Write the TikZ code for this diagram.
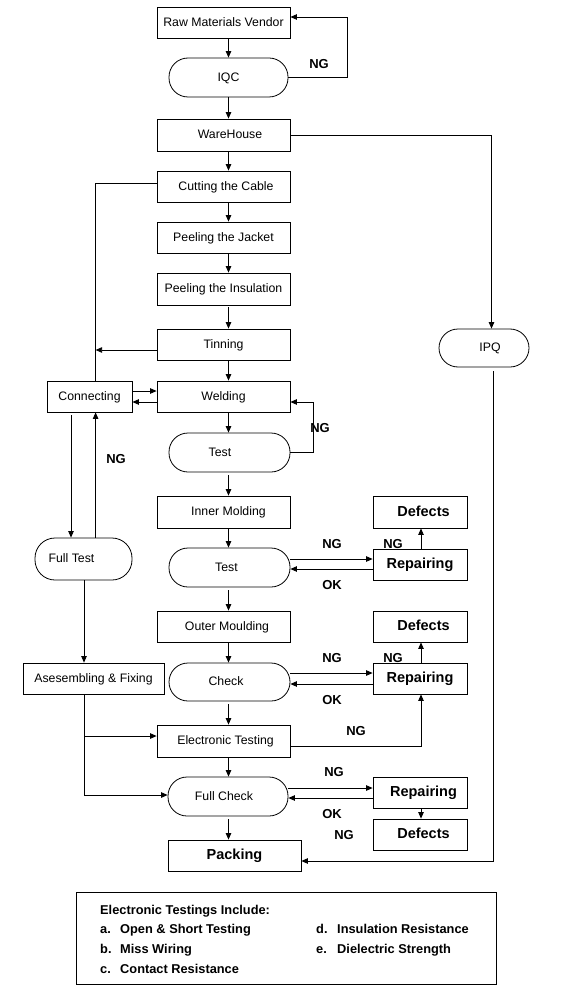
\documentclass[tikz,border=0pt]{standalone}
\usepackage{fontspec}
\setmainfont{Liberation Sans}
\usetikzlibrary{arrows.meta}
\newcommand\fReg{\fontsize{12.3}{14}\selectfont}
\newcommand\fNG{\fontsize{13}{15}\selectfont\bfseries}
\newcommand\fBig{\fontsize{14.5}{17}\selectfont\bfseries}
\newcommand\fLeg{\fontsize{12.8}{15}\selectfont\bfseries}
\tikzset{
  box/.style={draw, line width=0.8pt, minimum width=133pt, minimum height=31pt, inner sep=0pt, font=\fReg, text height=9pt, text depth=1.8pt},
  rbox/.style={draw, line width=0.8pt, rounded corners=19pt, minimum width=121pt, minimum height=39pt, inner sep=0pt, font=\fReg, text height=9pt, text depth=1.8pt},
  sbox/.style={draw, line width=0.8pt, minimum width=94pt, minimum height=31pt, inner sep=0pt, font=\fBig, text height=10.5pt, text depth=2pt},
  lab/.style={font=\fNG, inner sep=0pt, text height=9.5pt, text depth=0pt},
  leg/.style={font=\fLeg, inner sep=0pt, anchor=west, text height=9.2pt, text depth=2.7pt},
  conn/.style={line width=0.8pt, -{Triangle[length=6.5pt,width=5.5pt]}},
  plain/.style={line width=0.8pt}
}
\begin{document}
\begin{tikzpicture}[x=1pt,y=-1pt]
\useasboundingbox (0,0) rectangle (568,1000);
% nodes
\node[box] (vendor) at (223.5,22.5) {Raw Materials Vendor};
\node[rbox, minimum width=119pt] (iqc) at (228.5,77.5) {IQC};
\node[box, minimum height=32pt] (ware) at (223.5,135) {\hspace*{13pt}WareHouse};
\node[box] (cut) at (223.5,186.5) {\hspace*{5pt}Cutting the Cable};
\node[box] (jacket) at (223.5,237.5) {Peeling the Jacket};
\node[box, minimum height=32pt] (insul) at (223.5,289) {Peeling the Insulation};
\node[box] (tin) at (223.5,344.5) {Tinning};
\node[box] (weld) at (223.5,396.5) {Welding};
\node[box, minimum width=85pt] (connb) at (89.5,396.5) {Connecting};
\node[rbox] (test1) at (229.5,452.5) {Test\hspace*{19pt}};
\node[rbox, minimum width=90pt, minimum height=38pt] (ipq) at (484,348) {\hspace*{12pt}IPQ};
\node[box, minimum height=32pt] (inner) at (223.5,512) {\hspace*{10pt}Inner Molding};
\node[rbox, minimum width=97pt, minimum height=42pt, rounded corners=20pt] (fulltest) at (83.5,559) {Full Test\hspace*{24pt}};
\node[rbox] (test2) at (229.5,567.5) {Test\hspace*{6pt}};
\node[sbox] (rep1) at (420,564.5) {Repairing};
\node[sbox, minimum height=32pt] (def1) at (420,512) {\hspace*{7pt}Defects};
\node[box] (outer) at (223.5,626.5) {\hspace*{7pt}Outer Moulding};
\node[rbox, minimum height=38pt] (check) at (229.5,682) {Check\hspace*{7pt}};
\node[sbox] (rep2) at (420,678.5) {Repairing};
\node[sbox] (def2) at (420,626.5) {\hspace*{7pt}Defects};
\node[box, minimum width=141pt] (asm) at (93.5,678.5) {Asesembling \& Fixing};
\node[box, minimum height=32pt] (elec) at (223.5,741) {\hspace*{4pt}Electronic Testing};
\node[rbox, minimum width=120pt] (fullcheck) at (228,796.5) {Full Check\hspace*{8pt}};
\node[sbox] (rep3) at (420,792.5) {\hspace*{7pt}Repairing};
\node[sbox] (def3) at (420,834.5) {\hspace*{7pt}Defects};
\node[box, font=\fBig, text height=10.5pt, text depth=2pt] (pack) at (234.5,855.5) {Packing};
% helper coordinates
\coordinate (colx) at (228.5,0);
\coordinate (ngA) at (347,17);
\coordinate (r1) at (491.5,135);
\coordinate (r2) at (493,861);
\coordinate (lc) at (95.6,183);
\coordinate (wl) at (313,402);
\coordinate (fx) at (71,0);
\coordinate (ax) at (84,0);
\coordinate (rx) at (421,0);
% main column
\draw[conn] (vendor.south -| colx) -- (iqc.north -| colx);
\draw[conn] (iqc.south -| colx) -- (ware.north -| colx);
\draw[conn] (ware.south -| colx) -- (cut.north -| colx);
\draw[conn] (cut.south -| colx) -- (jacket.north -| colx);
\draw[conn] (jacket.south -| colx) -- (insul.north -| colx);
\draw[conn] ([yshift=-2pt]insul.south -| colx) -- (tin.north -| colx);
\draw[conn] (tin.south -| colx) -- (weld.north -| colx);
\draw[conn] (weld.south -| colx) -- (test1.north -| colx);
\draw[conn] ([yshift=-3pt]test1.south -| colx) -- (inner.north -| colx);
\draw[conn] (inner.south -| colx) -- (test2.north -| colx);
\draw[conn] ([yshift=-3pt]test2.south -| colx) -- (outer.north -| colx);
\draw[conn] (outer.south -| colx) -- (check.north -| colx);
\draw[conn] ([yshift=-3pt]check.south -| colx) -- (elec.north -| colx);
\draw[conn] (elec.south -| colx) -- (fullcheck.north -| colx);
\draw[conn] ([yshift=-3pt]fullcheck.south -| colx) -- (pack.north -| colx);
% IQC NG loop
\draw[conn] (iqc.east) -| (ngA) -- (ngA -| vendor.east);
% warehouse to IPQ to packing
\draw[conn] (ware.east) -- (r1) -- (r1 |- ipq.north);
\draw[conn] ([yshift=-4pt]r2 |- ipq.south) -- (r2) -- (r2 -| pack.east);
% cutting loop
\draw[plain] (connb.north -| lc) -- (lc) -- (lc -| cut.west);
\draw[conn] ([yshift=-5.5pt]tin.west) coordinate (t0) -- (t0 -| lc);
% connecting <-> welding
\draw[conn] ([yshift=5.5pt]connb.east) coordinate (c0) -- (c0 -| weld.west);
\draw[conn] ([yshift=-5.5pt]weld.west) coordinate (c1) -- (c1 -| connb.east);
% welding test loop
\draw[conn] (test1.east) -| (wl) -- (wl -| weld.east);
% connecting <-> full test
\draw[conn] ([yshift=-3pt]connb.south -| fx) -- (fulltest.north -| fx);
\draw[conn] (fulltest.north -| lc) -- (connb.south -| lc);
% full test -> assembling
\draw[conn] (fulltest.south -| ax) -- (asm.north -| ax);
% assembling -> electronic testing / full check
\draw[conn] (asm.south -| ax) |- ([yshift=1.5pt]fullcheck.west);
\draw[conn] ([yshift=5pt]elec.west -| ax) -- ([yshift=5pt]elec.west);
% test2 <-> repairing 1
\draw[conn] ([yshift=8.5pt]test2.east) coordinate (u1) -- (u1 -| rep1.west);
\draw[conn] ([yshift=-4.5pt]rep1.west) coordinate (l1) -- (l1 -| test2.east);
\draw[conn] (rep1.north -| rx) -- (def1.south -| rx);
% check <-> repairing 2
\draw[conn] ([yshift=9pt]check.east) coordinate (u2) -- (u2 -| rep2.west);
\draw[conn] ([yshift=-5.5pt]rep2.west) coordinate (l2) -- (l2 -| check.east);
\draw[conn] (rep2.north -| rx) -- (def2.south -| rx);
\draw[conn] ([yshift=-5pt]elec.east) -| (rep2.south -| rx);
% full check <-> repairing 3
\draw[conn] ([yshift=8.5pt]fullcheck.east) coordinate (u3) -- (u3 -| rep3.west);
\draw[conn] ([yshift=-5.5pt]rep3.west) coordinate (l3) -- (l3 -| fullcheck.east);
\draw[conn] (rep3.south -| rx) -- (def3.north -| rx);
% labels
\node[lab] (ng1) at (319,64) {NG};
\node[lab] (ng2) at (116,459) {NG};
\node[lab] (ng3) at (320,428) {NG};
\node[lab] (ng4) at (332,544) {NG};
\node[lab] (ng5) at (393,544) {NG};
\node[lab] (ok1) at (332,585) {OK};
\node[lab] (ng6) at (332,658) {NG};
\node[lab] (ng7) at (393,658) {NG};
\node[lab] (ok2) at (332,700) {OK};
\node[lab] (ng8) at (356,731) {NG};
\node[lab] (ng9) at (334,772) {NG};
\node[lab] (ok3) at (332,814) {OK};
\node[lab] (ng10) at (344,835) {NG};
% legend
\node[draw, line width=0.8pt, minimum width=420pt, minimum height=92pt, inner sep=0pt] (legend) at (286,938) {};
\node[leg] (lh) at (100,911) {Electronic Testings Include:};
\node[leg] (la1) at (100,930) {a.};
\node[leg] (la2) at (120,930) {Open \& Short Testing};
\node[leg] (lb1) at (100,950) {b.};
\node[leg] (lb2) at (120,950) {Miss Wiring};
\node[leg] (lc1) at (100,970) {c.};
\node[leg] (lc2) at (120,970) {Contact Resistance};
\node[leg] (ld1) at (316,930) {d.};
\node[leg] (ld2) at (337,930) {Insulation Resistance};
\node[leg] (le1) at (316,950) {e.};
\node[leg] (le2) at (337,950) {Dielectric Strength};
\end{tikzpicture}
\end{document}
